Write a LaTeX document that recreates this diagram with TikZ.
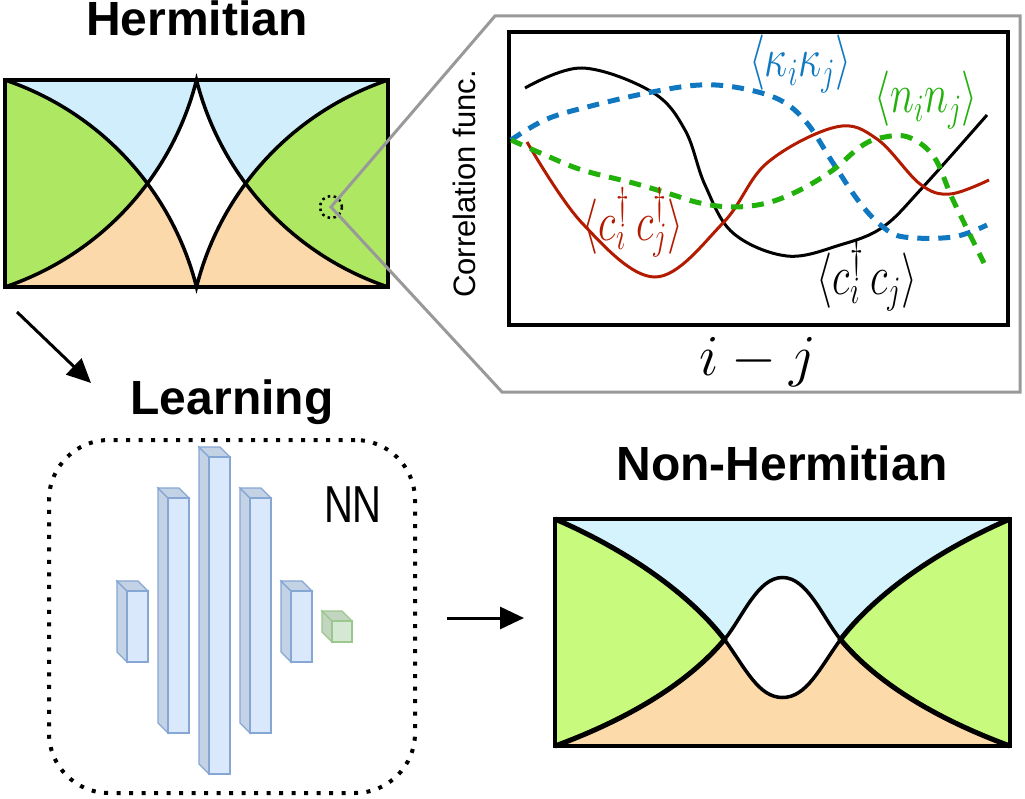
\RequirePackage{fix-cm}
\documentclass[tikz,border=0pt]{standalone}
\usepackage{fontspec}
\setmainfont{Liberation Sans}
\usetikzlibrary{arrows.meta}

\definecolor{hblue}{HTML}{D0EEFB}
\definecolor{hgreen}{HTML}{AEE862}
\definecolor{horange}{HTML}{FCD9AA}
\definecolor{nhblue}{HTML}{D5F3FD}
\definecolor{nhgreen}{HTML}{C8FA7D}
\definecolor{nhorange}{HTML}{FDDAAA}
\definecolor{kblue}{HTML}{1078C0}
\definecolor{ngreen}{HTML}{22B00A}
\definecolor{cred}{HTML}{B31B00}
\definecolor{layerfill}{HTML}{DAE8FC}
\definecolor{layershade}{HTML}{C4D2E6}
\definecolor{layeredge}{HTML}{86A6D4}
\definecolor{outfill}{HTML}{D5E8D4}
\definecolor{outshade}{HTML}{C1D5C0}
\definecolor{outedge}{HTML}{9CC78C}

% band curves, box centred at the origin, y pointing down
\newcommand{\hermupper}{(-191.5,-103.5) .. controls (-96.5,-71.5) and (-24.5,6.5) .. (0,103.5)
  .. controls (24.5,6.5) and (96.5,-71.5) .. (191.5,-103.5)}
\newcommand{\hermlower}{(-191.5,103.5) .. controls (-96.5,71.5) and (-24.5,-6.5) .. (0,-103.5)
  .. controls (24.5,-6.5) and (96.5,71.5) .. (191.5,103.5)}
\newcommand{\nhupper}{(-227.5,-113.5) .. controls (-150,-80) and (-90,-35) .. (-58,7)
  .. controls (-37,36) and (-24,65) .. (0,65) .. controls (24,65) and (37,36) .. (58,7)
  .. controls (90,-35) and (150,-80) .. (227.5,-113.5)}
\newcommand{\nhlower}{(-227.5,113.5) .. controls (-150,85) and (-92,48) .. (-58,7)
  .. controls (-40,-15) and (-25,-55) .. (0,-55) .. controls (25,-55) and (40,-15) .. (58,7)
  .. controls (92,48) and (150,85) .. (227.5,113.5)}
\newcommand{\corrlabel}[1]{\scalebox{1}[1.35]{$\langle #1 \rangle$}}

\tikzset{
  title/.style={font=\fontsize{48}{52}\selectfont\bfseries, anchor=base},
  corr/.style={font=\fontsize{41}{45}\selectfont},
  band/.style={line width=3.5pt},
  heavyband/.style={line width=5pt},
  flow/.style={line width=3pt, -{Triangle[length=24pt,width=22pt]}},
  curve/.style={line width=3pt, tension=0.6},
  dashcurve/.style={line width=5pt, dash pattern=on 12pt off 9pt, tension=0.6},
  layerside/.style={fill=layershade, draw=layeredge, line width=1.2pt},
  layerfront/.style={fill=layerfill, draw=layeredge, line width=1.2pt},
  outside/.style={fill=outshade, draw=outedge, line width=1.2pt},
  outfront/.style={fill=outfill, draw=outedge, line width=1.2pt},
}

\begin{document}
\begin{tikzpicture}[x=1pt,y=-1pt]
  \useasboundingbox (0,0) rectangle (1025,799);

  % Hermitian phase diagram
  \node[title] (hermtitle) at (197,36) {Hermitian};
  \begin{scope}[shift={(196.5,183.5)}]
    \fill[hgreen] (-191.5,-103.5) rectangle (191.5,103.5);
    \fill[hblue] \hermupper -- cycle;
    \fill[horange] \hermlower -- cycle;
    \begin{scope}
      \clip \hermupper -- cycle;
      \fill[white] \hermlower -- cycle;
    \end{scope}
    \draw[band] \hermupper;
    \draw[band] \hermlower;
  \end{scope}
  \node[draw, line width=4pt, minimum width=383pt, minimum height=207pt, inner sep=0pt] (herm) at (196.5,183.5) {};

  % zoom into the correlation functions
  \node[circle, draw, line width=2.5pt, dash pattern=on 2.5pt off 3.5pt, minimum size=22pt, inner sep=0pt] (zoompt) at (331,207) {};
  \draw[black!40, line width=3pt, line join=miter] (495,16) -- (1020,16) -- (1020,392) -- (502,392) -- (zoompt.center) -- cycle;
  \node[draw, line width=4pt, minimum width=499pt, minimum height=293pt, inner sep=0pt] (plotbox) at (758.5,178.5) {};
  \node[rotate=90, font=\fontsize{31}{34}\selectfont] (ylabel) at (464,184) {Correlation func.};
  \node[anchor=base, font=\fontsize{58}{62}\selectfont] (xlabel) at (758,376) {$i-j$};

  \draw[curve, black] plot[smooth] coordinates {(525,88) (582,68) (652,92) (685,130) (705,185) (733,233) (787,256) (840,245) (883,227) (923,187) (987,115)};
  \draw[curve, cred] plot[smooth] coordinates {(527,142) (582,223) (655,277) (723,223) (767,163) (836,127) (877,139) (920,184) (950,194) (989,180)};
  \draw[dashcurve, kblue] plot[smooth] coordinates {(511,140) (547,119) (595,105) (652,92) (700,85) (740,88) (780,100) (807,123) (833,163) (860,203) (883,227) (904,237) (953,237) (987,225)};
  \draw[dashcurve, ngreen] plot[smooth] coordinates {(511,140) (545,155) (582,170) (633,183) (667,193) (700,203) (733,207) (767,203) (800,190) (833,170) (860,147) (880,138) (908,137) (934,157) (953,200) (984,263)};

  \node[corr, text=kblue] (lkappa) at (800,64) {\corrlabel{\kappa_i\kappa_j}};
  \node[corr, text=ngreen] (lnn) at (926,100) {\corrlabel{n_in_j}};
  \node[corr, text=cred] (lcc) at (633,222) {\corrlabel{c_i^\dagger\, c_j^\dagger}};
  \node[corr] (lcd) at (867,276) {\corrlabel{c_i^\dagger\, c_j}};

  % learning step
  \coordinate (learnfrom) at (17,312);
  \coordinate (learnto) at (91,383);
  \draw[flow] (learnfrom) -- (learnto);
  \node[title] (learntitle) at (232,414) {Learning};
  \node[draw, line width=4pt, dash pattern=on 4pt off 8.5pt, rounded corners=60pt,
    minimum width=366pt, minimum height=353pt] (nnbox) at (232,616.5) {};
  \node[font=\fontsize{40}{44}\selectfont, anchor=base] (nnlabel) at (353,522) {\scalebox{1}[1.3]{NN}};

  \foreach \x/\t/\b in {127/591/662,168/498/733,209/457/774,250/498/733,291/591/662}
  {
    \filldraw[layerside] (\x,\t) -- (\x-10,\t-10) -- (\x-10,\b-10) -- (\x,\b) -- cycle;
    \filldraw[layerside] (\x,\t) -- (\x-10,\t-10) -- (\x+11,\t-10) -- (\x+21,\t) -- cycle;
    \filldraw[layerfront] (\x,\t) rectangle (\x+21,\b);
  }
  \filldraw[outside] (332,621) -- (322,611) -- (322,632) -- (332,642) -- cycle;
  \filldraw[outside] (332,621) -- (322,611) -- (342,611) -- (352,621) -- cycle;
  \filldraw[outfront] (332,621) rectangle (352,642);

  \coordinate (predfrom) at (447,618);
  \coordinate (predto) at (524,618);
  \draw[flow] (predfrom) -- (predto);

  % non-Hermitian phase diagram
  \node[title] (nhtitle) at (782,480) {Non-Hermitian};
  \begin{scope}[shift={(782.5,632.5)}]
    \fill[nhgreen] (-227.5,-113.5) rectangle (227.5,113.5);
    \fill[nhblue] \nhupper -- cycle;
    \fill[nhorange] \nhlower -- cycle;
    \begin{scope}
      \clip \nhupper -- cycle;
      \fill[white] \nhlower -- cycle;
    \end{scope}
    \draw[band] \nhupper;
    \draw[band] \nhlower;
    \draw[heavyband] (-227.5,-113.5) .. controls (-150,-80) and (-90,-35) .. (-58,7)
      .. controls (-92,48) and (-150,85) .. (-227.5,113.5);
    \draw[heavyband] (227.5,-113.5) .. controls (150,-80) and (90,-35) .. (58,7)
      .. controls (92,48) and (150,85) .. (227.5,113.5);
  \end{scope}
  \node[draw, line width=3.5pt, minimum width=455pt, minimum height=227pt, inner sep=0pt] (nherm) at (782.5,632.5) {};
\end{tikzpicture}
\end{document}
